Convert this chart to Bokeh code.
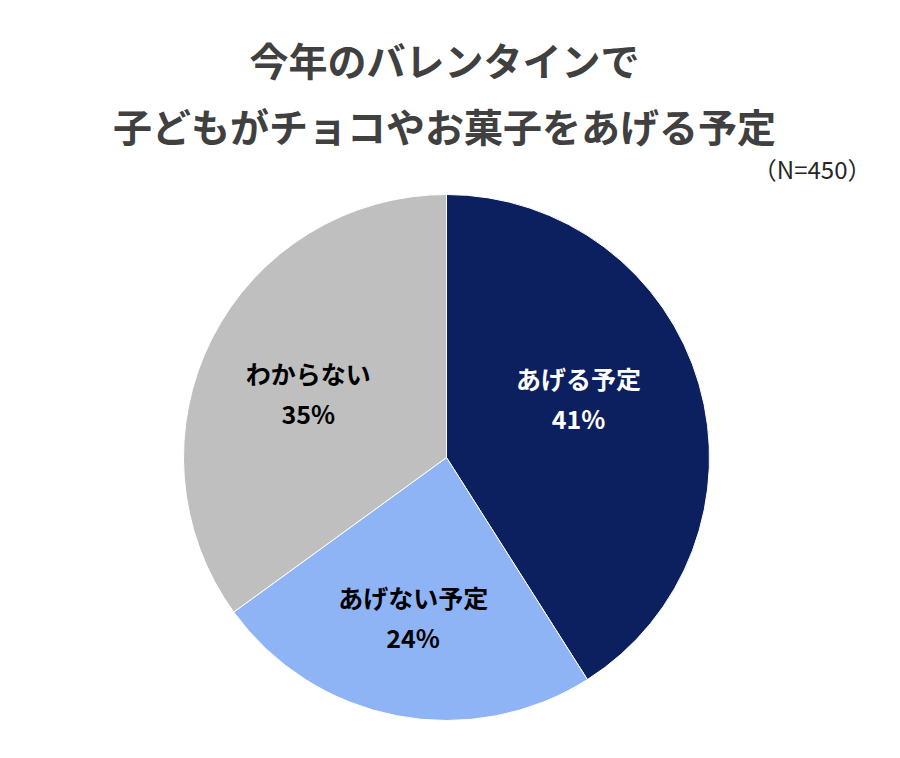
import math
from bokeh.plotting import figure
from bokeh.models import Range1d, ColumnDataSource
from bokeh.core.properties import value
from bokeh.embed import file_html
from bokeh.resources import INLINE

# ---- data ----
categories = ["あげる予定", "あげない予定", "わからない"]
shares = [41, 24, 35]
colors = ["#0C1F5E", "#8EB4F6", "#BFBFBF"]
label_colors = ["#FFFFFF", "#000000", "#000000"]
title_lines = ["今年のバレンタインで", "子どもがチョコやお菓子をあげる予定"]
note = "（N=450）"

# ---- layout (pixel-space coordinates) ----
W, H = 884, 742
cx, cy, R = 446, 285, 263
label_r = [0.55, 0.62, 0.58]
label_shift_deg = [8, -1, 2]

p = figure(width=W, height=H, x_range=Range1d(0, W), y_range=Range1d(0, H),
           output_backend="svg", toolbar_location=None, min_border=0)
p.axis.visible = False
p.grid.visible = False
p.outline_line_color = None
p.background_fill_color = "white"
p.border_fill_color = "white"

total = sum(shares)
starts, ends, mids = [], [], []
a = math.pi / 2
for s in shares:
    span = 2 * math.pi * s / total
    starts.append(a - span)
    ends.append(a)
    mids.append(a - span / 2)
    a -= span

src = ColumnDataSource(dict(start=starts, end=ends, color=colors))
p.wedge(x=cx, y=cy, radius=R, start_angle="start", end_angle="end",
        fill_color="color", line_color="white", line_width=1, source=src)

lx, ly = [], []
for m, rf, sh in zip(mids, label_r, label_shift_deg):
    ang = m + math.radians(sh)
    lx.append(cx + rf * R * math.cos(ang))
    ly.append(cy + rf * R * math.sin(ang))

font = value("Noto Sans CJK JP")
lsrc = ColumnDataSource(dict(x=lx, y1=[y + 20 for y in ly], y2=[y - 20 for y in ly],
                             name=categories, pct=[f"{s}%" for s in shares],
                             c=label_colors))
p.text(x="x", y="y1", text="name", text_color="c", source=lsrc,
       text_font=font, text_font_size="25px", text_font_style="bold",
       text_align="center", text_baseline="middle")
p.text(x="x", y="y2", text="pct", text_color="c", source=lsrc,
       text_font=font, text_font_size="25px", text_font_style="bold",
       text_align="center", text_baseline="middle")

p.text(x=[444, 444], y=[684, 618], text=title_lines, text_color="#404040",
       text_font=font, text_font_size="39px", text_font_style="bold",
       text_align="center", text_baseline="middle")
p.text(x=[871], y=[574], text=[note], text_color="#262626",
       text_font=font, text_font_size="24px",
       text_align="right", text_baseline="middle")

open("out.html", "w").write(file_html(p, INLINE))
